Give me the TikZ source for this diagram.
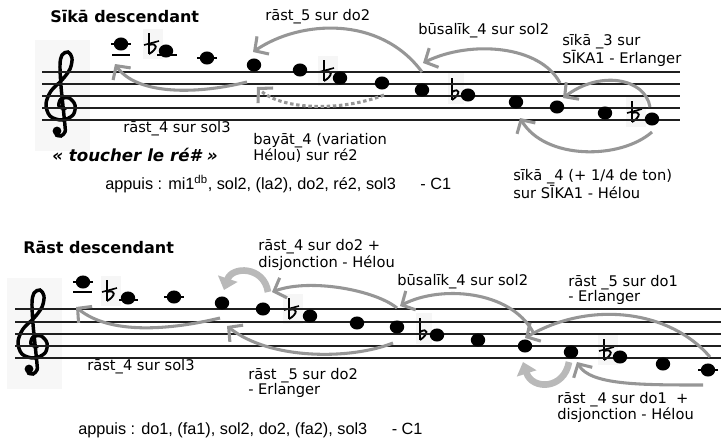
\documentclass[tikz,border=0pt]{standalone}
\usepackage{fontspec}
\setmainfont{DejaVu Sans}
\newfontfamily\arialfont{Liberation Sans}
\usetikzlibrary{arrows.meta,shapes.geometric}

\begin{document}
\begin{tikzpicture}[x=0.75pt,y=-0.75pt,
	note/.style={ellipse,fill=black,inner sep=0pt,minimum width=10.8pt,minimum height=9.8pt},
	portee/.style={line width=1.3pt,draw=black!88},
	ledger/.style={line width=1.3pt},
	lbl/.style={anchor=west,inner sep=0pt,align=left,font=\fontsize{11}{11.3}\selectfont},
	titre/.style={anchor=west,inner sep=0pt,font=\fontsize{12}{14}\selectfont\bfseries},
	appui/.style={anchor=west,inner sep=0pt,font=\arialfont\fontsize{12.2}{14}\selectfont},
	fleche/.style={draw=grisfleche,line width=2.3pt,-{Straight Barb[length=7.5pt,width=16pt]}},
	pointille/.style={fleche,dash pattern=on 2.6pt off 2pt},
	disj/.style={draw=grisclair,line width=5pt,-{Triangle[length=9pt,width=15pt]}},
	cle/.pic={
		\fill[gray!6] (-27,-66) rectangle (28,45);
		\draw[line width=2.6pt,line cap=round] plot[smooth,tension=0.55] coordinates {(3,3) (-3,0) (-1,-7) (7,-8) (13,-1) (11,9) (0,14) (-12,10) (-16,-2) (-11,-15) (0,-26) (8,-37) (10,-48) (6,-54) (0,-51) (-2,-41) (-1,-20) (1,0) (3,20) (3,26) (-1,30) (-6,29)};
		\fill (-5,25) circle[radius=3.3pt];
	},
	demibemol/.pic={
		\fill[gray!7] (-6,-22) rectangle (14,8);
		\draw[line width=1.2pt] (0,-18) -- (0,3);
		\draw[line width=1.4pt] (0,3) .. controls (9,-2) and (9,-9) .. (0,-6);
		\draw[line width=1.2pt] (-5,-6) -- (10,-10);
	},
	bemol/.pic={
		\fill[gray!7] (-4,-22) rectangle (12,9);
		\draw[line width=1.2pt] (0,-17) -- (0,5);
		\draw[line width=1.4pt] (0,5) .. controls (9,-1) and (8,-8) .. (0,-3);
	}
]
\definecolor{grisfleche}{RGB}{150,150,150}
\definecolor{grisclair}{RGB}{185,185,185}
	\useasboundingbox (0,0) rectangle (721,444);

	\pic at (62,106) {cle};
	\pic at (149,51) {demibemol};
	\pic at (324,78) {demibemol};
	\pic at (452,95) {bemol};
	\pic at (632,119) {demibemol};
	\foreach \y in {72,84,96,108,120}
		\draw[portee] (42,\y) -- (680,\y);
	\draw[ledger] (111,44) -- (131,44);
	\draw[ledger] (112,55) -- (130,55);
	\draw[ledger] (157,55) -- (177,55);
	\draw[ledger] (197,58) -- (217,58);

	\node[note] (t1) at (121,44) {};
	\node[note] (t2) at (166,51) {};
	\node[note] (t3) at (207,58) {};
	\node[note] (t4) at (254,65) {};
	\node[note] (t5) at (300,70) {};
	\node[note] (t6) at (340,78) {};
	\node[note] (t7) at (382,83) {};
	\node[note] (t8) at (422,90) {};
	\node[note] (t9) at (468,95) {};
	\node[note] (t10) at (516,102) {};
	\node[note] (t11) at (557,107) {};
	\node[note] (t12) at (605,113) {};
	\node[note] (t13) at (652,119) {};

	\draw[fleche] ([shift={(-7,17)}]t4.center) .. controls (190,96) and (135,93) .. ([shift={(-6,20)}]t1.center);
	\draw[fleche] ([shift={(0,-18)}]t8.center) .. controls (380,15) and (300,20) .. ([shift={(-1,-13)}]t4.center);
	\draw[fleche] ([shift={(3,-24)}]t11.center) .. controls (540,45) and (470,40) .. ([shift={(1,-27)}]t8.center);
	\draw[fleche] ([shift={(-2,-12)}]t13.center) .. controls (645,78) and (600,70) .. ([shift={(6,-9)}]t11.center);
	\draw[fleche] ([shift={(0,13)}]t13.center) .. controls (620,160) and (545,160) .. ([shift={(4,16)}]t10.center);
	\draw[pointille] ([shift={(2,12)}]t7.center) .. controls (340,112) and (280,110) .. ([shift={(3,22)}]t4.center);

	\node[titre] (titre1) at (50,17) {Sīkā descendant};
	\node[lbl] (r5do2) at (265,17) {rāst\_5 sur do2};
	\node[lbl] (bus1) at (418,31) {būsalīk\_4 sur sol2};
	\node[lbl] (sik3) at (562,50.5) {sīkā \_3 sur\\SĪKA1 - Erlanger};
	\node[lbl] (r4sol1) at (123,129) {rāst\_4 sur sol3};
	\node[anchor=west,inner sep=0pt,font=\fontsize{12.5}{14}\selectfont\bfseries\itshape] (toucher) at (52,155) {« toucher le ré\# »};
	\node[lbl] (bayat) at (253,148) {bayāt\_4 (variation\\Hélou) sur ré2};
	\node[lbl] (sik4) at (513,184.5) {sīkā \_4 (+ 1/4 de ton)\\sur SĪKA1 - Hélou};
	\node[appui] (appui1) at (105,184) {appuis : mi1\textsuperscript{db}, sol2, (la2), do2, ré2, sol3 \hspace{15pt}- C1};

	\pic at (34,344) {cle};
	\pic at (107,298) {demibemol};
	\pic at (289,316) {demibemol};
	\pic at (420,335) {bemol};
	\pic at (604,357) {demibemol};
	\foreach \y in {309,322,334,346,358}
		\draw[portee] (15,\y) -- (721,\y);
	\draw[ledger] (73,282) -- (93,282);
	\draw[ledger] (73,292) -- (92,292);
	\draw[ledger] (119,300) -- (138,300);
	\draw[ledger] (164,297) -- (184,297);
	\draw[ledger] (698,370) -- (718,370);

	\node[note] (m1) at (83,282) {};
	\node[note] (m2) at (128,298) {};
	\node[note] (m3) at (174,297) {};
	\node[note] (m4) at (222,303) {};
	\node[note] (m5) at (263,309) {};
	\node[note] (m6) at (310,316) {};
	\node[note] (m7) at (357,323) {};
	\node[note] (m8) at (397,327) {};
	\node[note] (m9) at (437,335) {};
	\node[note] (m10) at (478,340) {};
	\node[note] (m11) at (525,346) {};
	\node[note] (m12) at (571,352) {};
	\node[note] (m13) at (620,357) {};
	\node[note] (m14) at (663,364) {};
	\node[note] (m15) at (708,370) {};

	\draw[fleche] ([shift={(-2,15)}]m4.center) .. controls (170,330) and (110,335) .. ([shift={(-7,25)}]m1.center);
	\draw[disj] ([shift={(5,-17)}]m5.center) .. controls (264,266) and (232,266) .. ([shift={(2,-13)}]m4.center);
	\draw[fleche] ([shift={(0,-19)}]m8.center) .. controls (375,290) and (310,278) .. ([shift={(9,-17)}]m5.center);
	\draw[fleche] ([shift={(-4,16)}]m8.center) .. controls (350,360) and (270,360) .. ([shift={(5,23)}]m4.center);
	\draw[fleche] ([shift={(8,-14)}]m11.center) .. controls (510,290) and (440,285) .. ([shift={(3,-21)}]m8.center);
	\draw[fleche] ([shift={(2,-13)}]m15.center) .. controls (670,310) and (590,300) .. ([shift={(0,-8)}]m11.center);
	\draw[fleche] ([shift={(-5,15)}]m15.center) .. controls (640,385) and (590,385) .. ([shift={(6,10)}]m12.center);
	\draw[disj] ([shift={(-2,10)}]m12.center) .. controls (564,390) and (532,390) .. ([shift={(-2,16)}]m11.center);

	\node[titre] (titre2) at (23,248) {Rāst descendant};
	\node[lbl] (r4do2) at (258,255) {rāst\_4 sur do2 +\\disjonction - Hélou};
	\node[lbl] (bus2) at (397,282) {būsalīk\_4 sur sol2};
	\node[lbl] (r5do1) at (568,290) {rāst \_5 sur do1\\- Erlanger};
	\node[lbl] (r4sol2) at (87,367) {rāst\_4 sur sol3};
	\node[lbl] (r5do2b) at (248,382.5) {rāst \_5 sur do2\\- Erlanger};
	\node[lbl] (r4do1) at (557,407.5) {rāst \_4 sur do1\ \ +\\disjonction - Hélou};
	\node[appui] (appui2) at (78,430) {appuis : do1, (fa1), sol2, do2, (fa2), sol3 \hspace{15pt}- C1};
\end{tikzpicture}
\end{document}
